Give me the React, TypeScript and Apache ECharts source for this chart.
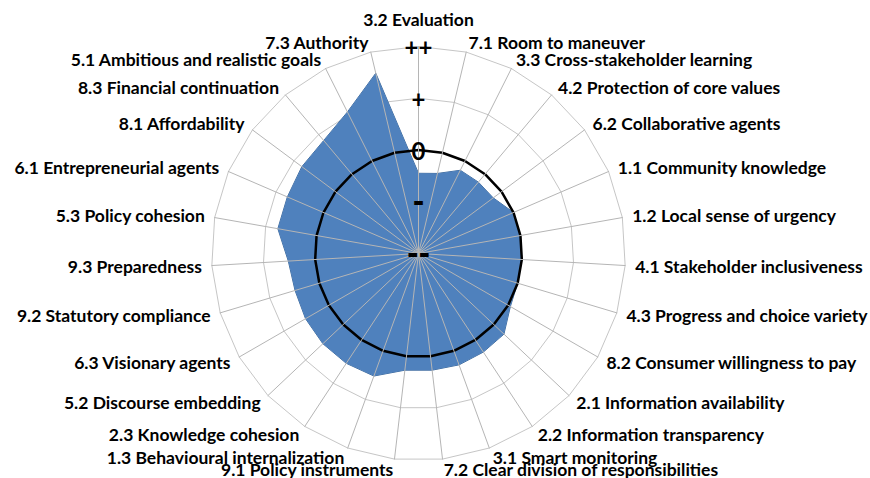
import React, { useEffect, useRef } from "react";
import * as echarts from "echarts";

// Indicators, clockwise from the top
const categories = [
  "3.2 Evaluation",
  "7.1 Room to maneuver",
  "3.3 Cross-stakeholder learning",
  "4.2 Protection of core values",
  "6.2 Collaborative agents",
  "1.1 Community knowledge",
  "1.2 Local sense of urgency",
  "4.1 Stakeholder inclusiveness",
  "4.3 Progress and choice variety",
  "8.2 Consumer willingness to pay",
  "2.1 Information availability",
  "2.2 Information transparency",
  "3.1 Smart monitoring",
  "7.2 Clear division of responsibilities",
  "9.1 Policy instruments",
  "1.3 Behavioural internalization",
  "2.3 Knowledge cohesion",
  "5.2 Discourse embedding",
  "6.3 Visionary agents",
  "9.2 Statutory compliance",
  "9.3 Preparedness",
  "5.3 Policy cohesion",
  "6.1 Entrepreneurial agents",
  "8.1 Affordability",
  "8.3 Financial continuation",
  "5.1 Ambitious and realistic goals",
  "7.3 Authority",
];

// Scores on a -2 (--) .. +2 (++) scale, same order as categories
const scores = [
  -0.45, -0.41, -0.2, -0.2, -0.2, 0, 0, 0, 0, 0.05, 0.27, 0.28, 0.29, 0.27,
  0.27, 0.52, 0.54, 0.54, 0.52, 0.49, 0.52, 0.76, 0.76, 0.81, 0.85, 1.06, 1.58,
];

// Reference line at the neutral level "0"
const zeroLine = [
  0, 0, 0, 0, 0, 0, 0, 0, 0, 0, 0, 0, 0, 0, 0, 0, 0, 0, 0, 0, 0, 0, 0, 0, 0, 0, 0,
];

const tickLabels = ["--", "-", "0", "+", "++"];
const scaleMin = -2;
const scaleMax = 2;

const FONT = "Lato, 'Open Sans', sans-serif";

export default function App() {
  const ref = useRef<HTMLDivElement>(null);

  useEffect(() => {
    if (!ref.current) return;
    const chart = echarts.init(ref.current, undefined, { renderer: "svg" });
    const center = [418.5, 253.5];
    const radius = 207;

    // ECharts lays radar indicators out counter-clockwise; reorder so the
    // categories run clockwise from the top, as in the reference.
    const n = categories.length;
    const order = [0];
    for (let k = n - 1; k >= 1; k--) order.push(k);

    const tickFormatter = (v: number) => {
      const t = tickLabels[Math.round(v - scaleMin)];
      return t.indexOf("-") >= 0 ? `{d|${t}}` : `{p|${t}}`;
    };

    const option = {
      animation: false,
      backgroundColor: "#ffffff",
      radar: [
        {
          z: 1,
          center,
          radius,
          startAngle: 90,
          shape: "polygon",
          splitNumber: 4,
          nameGap: 10,
          indicator: order.map((i) =>
            i === 0
              ? { name: categories[i], min: scaleMin, max: scaleMax, nameGap: 18 }
              : { name: categories[i], min: scaleMin, max: scaleMax }
          ),
          axisName: {
            color: "#000000",
            fontSize: 17.5,
            fontWeight: "bold",
            fontFamily: FONT,
          },
          axisLine: { show: false },
          axisTick: { show: false },
          axisLabel: { show: false },
          splitLine: { lineStyle: { color: "#c6c6c6", width: 1 } },
          splitArea: { show: false },
        },
        {
          z: 3,
          center,
          radius,
          startAngle: 90,
          shape: "polygon",
          splitNumber: 4,
          indicator: order.map((i) =>
            i === 0
              ? {
                  name: categories[i],
                  min: scaleMin,
                  max: scaleMax,
                  axisLabel: {
                    show: true,
                    formatter: tickFormatter,
                    color: "#000000",
                    align: "center",
                    verticalAlign: "middle",
                    margin: 0,
                    showMinLabel: true,
                    showMaxLabel: true,
                    rich: {
                      p: {
                        fontSize: 24,
                        fontWeight: "bold",
                        fontFamily: FONT,
                        color: "#000000",
                      },
                      d: {
                        fontSize: 28,
                        fontWeight: "bold",
                        fontFamily: "'DejaVu Sans', sans-serif",
                        color: "#000000",
                      },
                    },
                  },
                }
              : { name: categories[i], min: scaleMin, max: scaleMax }
          ),
          axisName: { show: false },
          axisLine: { lineStyle: { color: "#b5b5b5", width: 1 } },
          axisTick: { show: false },
          axisLabel: { show: false },
          splitLine: { show: false },
          splitArea: { show: false },
        },
      ],
      series: [
        {
          type: "radar",
          radarIndex: 0,
          z: 2,
          symbol: "none",
          data: [
            {
              value: order.map((i) => scores[i]),
              areaStyle: { color: "#4F81BD", opacity: 1 },
              lineStyle: { color: "#3d6899", width: 1 },
            },
          ],
        },
        {
          type: "radar",
          radarIndex: 0,
          z: 2,
          symbol: "none",
          data: [
            {
              value: order.map((i) => zeroLine[i]),
              lineStyle: { color: "#000000", width: 2.5 },
            },
          ],
        },
      ],
    };

    chart.setOption(option as any);
    return () => chart.dispose();
  }, []);

  return (
    <div
      ref={ref}
      style={{ position: "fixed", left: 0, top: 0, width: 870, height: 478 }}
    />
  );
}
